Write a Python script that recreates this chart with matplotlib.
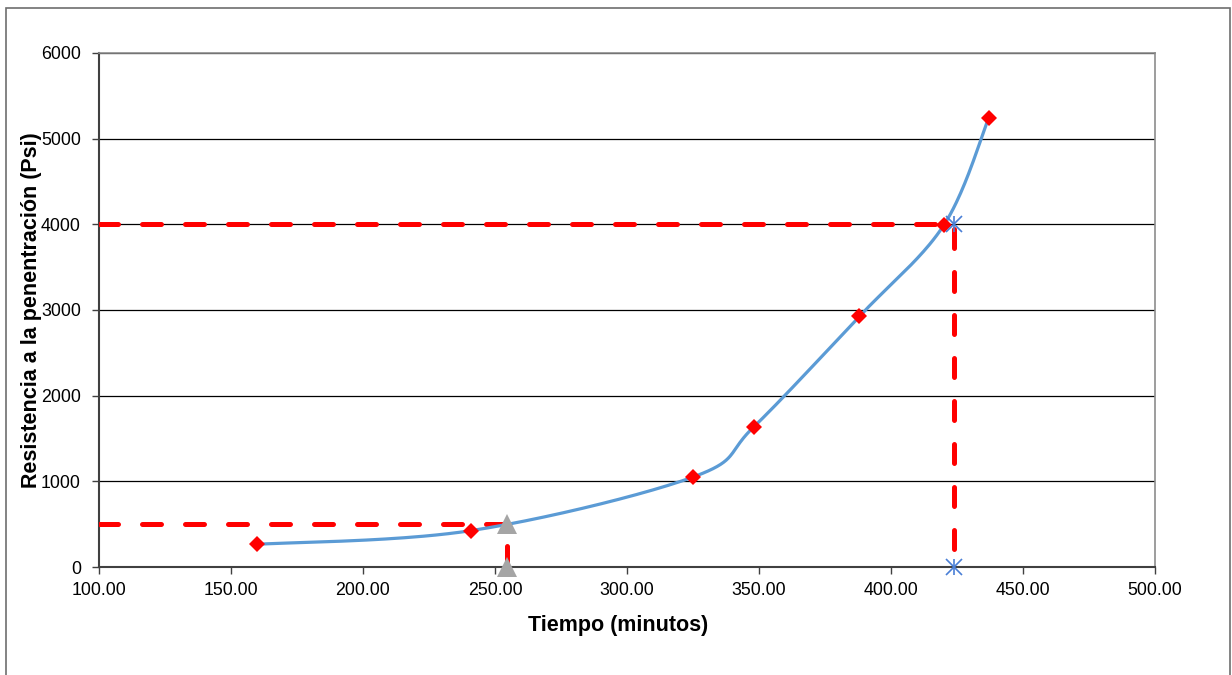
import numpy as np
import matplotlib.pyplot as plt
from matplotlib.patches import Rectangle
from matplotlib.ticker import FormatStrFormatter

plt.rcParams["font.family"] = ["Liberation Sans", "DejaVu Sans"]

# penetration test readings
tiempo = [160, 241, 325, 348, 388, 420, 437]
resistencia = [265, 425, 1050, 1635, 2925, 3990, 5240]

# initial set (500 psi) and final set (4000 psi) reference lines
ini_x = [100, 254.5, 254.5]
ini_y = [500, 500, 0]
fin_x = [100, 424, 424]
fin_y = [4000, 4000, 0]
ini_marks_x = [254.5, 254.5]
ini_marks_y = [500, 0]
fin_marks_x = [424, 424]
fin_marks_y = [4000, 0]

XMIN, XMAX, YMIN, YMAX = 100, 500, 0, 6000


def smooth(xs, ys, ax_w, ax_h, n=40):
    # Catmull-Rom style bezier smoothing, computed in screen proportions
    px = (np.asarray(xs, float) - XMIN) / (XMAX - XMIN) * ax_w
    py = (np.asarray(ys, float) - YMIN) / (YMAX - YMIN) * ax_h
    pts = np.column_stack([px, py])
    out = []
    for i in range(len(pts) - 1):
        p0 = pts[max(i - 1, 0)]
        p1 = pts[i]
        p2 = pts[i + 1]
        p3 = pts[min(i + 2, len(pts) - 1)]
        c1 = p1 + (p2 - p0) / 6
        c2 = p2 - (p3 - p1) / 6
        t = np.linspace(0, 1, n)[:, None]
        seg = ((1 - t) ** 3) * p1 + 3 * ((1 - t) ** 2) * t * c1 + 3 * (1 - t) * t ** 2 * c2 + t ** 3 * p2
        out.append(seg if i == 0 else seg[1:])
    c = np.vstack(out)
    return (c[:, 0] / ax_w * (XMAX - XMIN) + XMIN,
            c[:, 1] / ax_h * (YMAX - YMIN) + YMIN)


W, H = 1232, 675
fig = plt.figure(figsize=(W / 100, H / 100), dpi=100)
fig.patches.append(Rectangle((6 / W, -0.05), 1224 / W, 1 - 8 / H + 0.05,
                             transform=fig.transFigure, fill=False,
                             edgecolor="#6e6e6e", lw=1.2))

left, right, top, bottom = 99, 1155, 53, 567
ax = fig.add_axes([left / W, 1 - bottom / H, (right - left) / W, (bottom - top) / H])

ax.set_xlim(XMIN, XMAX)
ax.set_ylim(YMIN, YMAX)
ax.set_xticks(np.arange(100, 501, 50))
ax.set_yticks(np.arange(0, 6001, 1000))
ax.xaxis.set_major_formatter(FormatStrFormatter("%.2f"))
ax.yaxis.grid(True, color="#000000", lw=0.9)
ax.set_axisbelow(True)
for s in ["left", "bottom"]:
    ax.spines[s].set_color("#404040")
    ax.spines[s].set_linewidth(1.5)
for s in ["top", "right"]:
    ax.spines[s].set_color("#8c8c8c")
    ax.spines[s].set_linewidth(1.2)
ax.tick_params(axis="both", direction="out", length=5, width=1, color="#404040",
               labelsize=12.8)
ax.tick_params(axis="x", pad=6)
ax.tick_params(axis="y", pad=8)

red_dash = dict(color="#ff0000", lw=3.6, dashes=(3.8, 4.8),
                dash_capstyle="round", solid_capstyle="round", zorder=3)
ax.plot(ini_x, ini_y, **red_dash)
ax.plot(fin_x, fin_y, **red_dash)

cx, cy = smooth(tiempo, resistencia, right - left, bottom - top)
ax.plot(cx, cy, color="#5b9bd5", lw=2.3, zorder=4, solid_capstyle="round")
ax.plot(tiempo, resistencia, ls="none", marker="D", ms=8, color="#ff0000",
        markeredgewidth=0, zorder=5)

ax.plot(ini_marks_x, ini_marks_y, ls="none", marker="^", ms=15, color="#a5a5a5",
        markeredgewidth=0, zorder=6, clip_on=False)
for m in ["x", "|"]:
    ax.plot(fin_marks_x, fin_marks_y, ls="none", marker=m, ms=12, color="#4a7fd6",
            markeredgewidth=1.2, zorder=6, clip_on=False)

ax.set_xlabel("Tiempo (minutos)", fontsize=15.5, fontweight="bold")
ax.set_ylabel("Resistencia a la penentración (Psi)", fontsize=15.5, fontweight="bold")
ax.xaxis.set_label_coords((618 - left) / (right - left), -(625 - bottom) / (bottom - top),
                          transform=ax.transAxes)
ax.yaxis.set_label_coords(-(99 - 31) / (right - left), 0.5)
ax.xaxis.label.set_va("center")
ax.yaxis.label.set_va("center")

fig.savefig("out.png", dpi=100)
